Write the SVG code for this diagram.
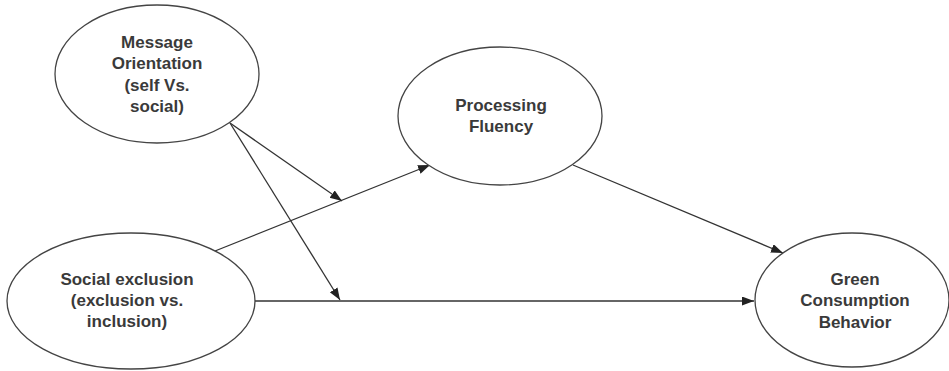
<svg xmlns="http://www.w3.org/2000/svg" width="949" height="371" viewBox="0 0 949 371">
<style>
.node ellipse{fill:#fff;stroke:#444;stroke-width:1.3}
.node text{font-family:"Liberation Sans",Arial,sans-serif;font-weight:bold;font-size:17px;fill:#3a3a3a;text-anchor:middle}
#connectors line{stroke:#333;stroke-width:1.3;fill:none}
</style>
<defs>
<marker id="arr" markerUnits="userSpaceOnUse" markerWidth="13" markerHeight="10" refX="12" refY="4.5" orient="auto">
<path d="M0,0 L12,4.5 L0,9 z" fill="#222"/>
</marker>
</defs>
<rect width="949" height="371" fill="#fff"/>
<g id="connectors">
<line x1="210" y1="253" x2="430" y2="165" marker-end="url(#arr)"/>
<line x1="230" y1="123" x2="342" y2="201" marker-end="url(#arr)"/>
<line x1="230" y1="123" x2="340" y2="300" marker-end="url(#arr)"/>
<line x1="246" y1="301" x2="754" y2="301" marker-end="url(#arr)"/>
<line x1="573" y1="165" x2="783" y2="253" marker-end="url(#arr)"/>
</g>
<g id="message" class="node">
<ellipse cx="157" cy="74" rx="102" ry="69"/>
<text x="157" y="48">Message</text>
<text x="157" y="69">Orientation</text>
<text x="157" y="91">(self Vs.</text>
<text x="157" y="112">social)</text>
</g>
<g id="fluency" class="node">
<ellipse cx="500" cy="116" rx="102" ry="69"/>
<text x="501" y="111">Processing</text>
<text x="501" y="132">Fluency</text>
</g>
<g id="exclusion" class="node">
<ellipse cx="131" cy="301" rx="124" ry="68"/>
<text x="127" y="285">Social exclusion</text>
<text x="127" y="306">(exclusion vs.</text>
<text x="127" y="327">inclusion)</text>
</g>
<g id="green" class="node">
<ellipse cx="852" cy="300" rx="97" ry="67"/>
<text x="855" y="285">Green</text>
<text x="855" y="306">Consumption</text>
<text x="855" y="328">Behavior</text>
</g>
</svg>
